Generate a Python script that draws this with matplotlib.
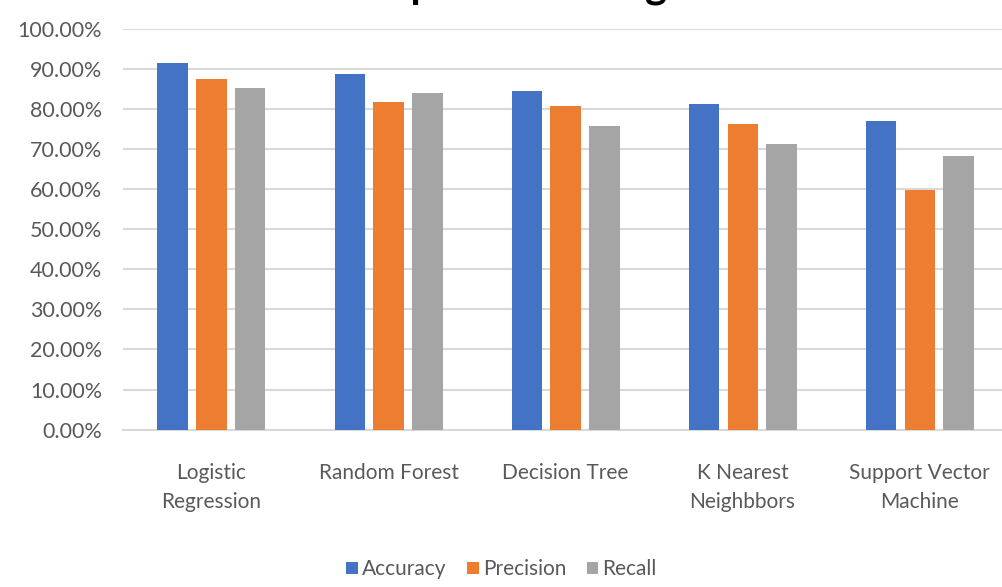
import matplotlib
matplotlib.use("Agg")
from matplotlib import pyplot as plt
from matplotlib.ticker import PercentFormatter
import numpy as np

plt.rcParams["font.family"] = ["Lato", "DejaVu Sans"]

# data
algorithms = [
    "Logistic\nRegression",
    "Random Forest",
    "Decision Tree",
    "K Nearest\nNeighbbors",
    "Support Vector\nMachine",
]
accuracy = [91.5, 88.6, 84.4, 81.2, 77.0]
precision = [87.3, 81.6, 80.7, 76.2, 59.7]
recall = [85.1, 84.0, 75.7, 71.1, 68.3]

series = [
    ("Accuracy", accuracy, "#4472C4"),
    ("Precision", precision, "#ED7D31"),
    ("Recall", recall, "#A5A5A5"),
]

fig = plt.figure(figsize=(10.03, 5.87), dpi=100)
ax = fig.add_axes([0.1226, 0.268, 0.8825, 0.6834])

x = np.arange(len(algorithms))
width = 0.17
step = 0.22
for i, (name, vals, color) in enumerate(series):
    ax.bar(x + (i - 1) * step, vals, width, color=color, label=name, zorder=3)

ax.set_ylim(0, 100)
ax.set_xlim(-0.5, len(algorithms) - 0.5)
ax.set_yticks(np.arange(0, 101, 10))
ax.yaxis.set_major_formatter(PercentFormatter(decimals=2))
ax.grid(axis="y", color="#D9D9D9", linewidth=1.5, zorder=0)
ax.set_xticks(x)
ax.set_xticklabels(algorithms, linespacing=1.55)
ax.tick_params(axis="y", length=0, labelsize=15.5, colors="#595959", pad=15)
ax.tick_params(axis="x", length=0, labelsize=15, colors="#595959", pad=24)
for side in ["top", "right", "left"]:
    ax.spines[side].set_visible(False)
ax.spines["bottom"].set_color("#D9D9D9")
ax.spines["bottom"].set_linewidth(1.5)

leg = fig.legend(
    loc="center",
    bbox_to_anchor=(0.5, 0.03),
    ncol=3,
    frameon=False,
    fontsize=15,
    handlelength=0.55,
    handleheight=0.55,
    handletextpad=0.2,
    columnspacing=1.0,
)
for t in leg.get_texts():
    t.set_color("#595959")

# title sits mostly above the cropped picture
fig.text(0.565, 1.0 + 3 / 587, "Comparison of Algorithms", ha="center",
         va="baseline", fontsize=30, fontweight="bold", color="#000000")

fig.savefig("out.png", dpi=100)
